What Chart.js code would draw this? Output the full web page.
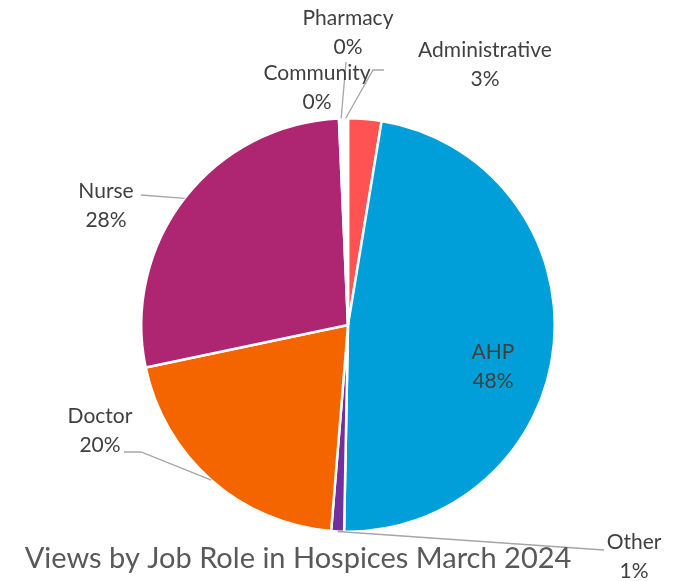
<!DOCTYPE html>
<html>
<head>
<meta charset="utf-8">
<script src="https://cdn.jsdelivr.net/npm/chart.js@4"></script>
<style>
  html, body { margin: 0; padding: 0; background: #ffffff; }
  #wrap { width: 677px; height: 581px; }
</style>
</head>
<body>
<div id="wrap"><canvas id="pieChart" width="677" height="581"></canvas></div>
<script>
  // Data (percent of views)
  const roles = ['Administrative', 'AHP', 'Other', 'Doctor', 'Nurse', 'Community', 'Pharmacy'];
  const views = [2.6, 47.7, 1.0, 20.4, 27.6, 0.35, 0.35];
  const sliceColors = ['#FF5252', '#009FDA', '#7030A0', '#F46500', '#AE2572', '#FFFFFF', '#FFFFFF'];
  const chartTitle = 'Views by Job Role in Hospices March 2024';

  // Where each data label sits (centre of text block) and the elbow of its leader line
  const labelLayout = {
    'Administrative': { x: 485, y: 65, leader: null },
    'AHP': { x: 493, y: 367, leader: null },
    'Other': { x: 634, y: 557, leader: [[604, 550]] },
    'Doctor': { x: 100, y: 431, leader: [[124, 452], [141, 452]] },
    'Nurse': { x: 106, y: 206, leader: [[141, 195]] },
    'Community': { x: 317, y: 88, leader: [[346, 62]] },
    'Pharmacy': { x: 348, y: 33, leader: [[384, 70], [373, 70]] }
  };

  const labelsPlugin = {
    id: 'excelLabels',
    afterDatasetsDraw(chart) {
      const ctx = chart.ctx;
      const meta = chart.getDatasetMeta(0);
      const total = views.reduce((a, b) => a + b, 0);

      // leader lines first
      ctx.save();
      ctx.strokeStyle = '#A6A6A6';
      ctx.lineWidth = 1.3;
      meta.data.forEach((arc, i) => {
        const lay = labelLayout[roles[i]];
        if (!lay || !lay.leader) return;
        const mid = (arc.startAngle + arc.endAngle) / 2;
        const ex = arc.x + Math.cos(mid) * arc.outerRadius;
        const ey = arc.y + Math.sin(mid) * arc.outerRadius;
        ctx.beginPath();
        ctx.moveTo(lay.leader[0][0], lay.leader[0][1]);
        for (let k = 1; k < lay.leader.length; k++) ctx.lineTo(lay.leader[k][0], lay.leader[k][1]);
        ctx.lineTo(ex, ey);
        ctx.stroke();
      });
      ctx.restore();

      // label text
      ctx.save();
      ctx.fillStyle = '#404040';
      ctx.font = '21px Lato';
      ctx.textAlign = 'center';
      ctx.textBaseline = 'middle';
      roles.forEach((role, i) => {
        const lay = labelLayout[role];
        const pct = Math.round(views[i] / total * 100) + '%';
        ctx.fillText(role, lay.x, lay.y - 15);
        ctx.fillText(pct, lay.x, lay.y + 14);
      });

      // title under the pie
      ctx.fillStyle = '#595959';
      ctx.font = '29px Lato';
      ctx.textBaseline = 'alphabetic';
      ctx.fillText(chartTitle, 298, 568);
      ctx.restore();
    }
  };

  new Chart(document.getElementById('pieChart').getContext('2d'), {
    type: 'pie',
    data: {
      labels: roles,
      datasets: [{
        data: views,
        backgroundColor: sliceColors,
        borderColor: '#ffffff',
        borderWidth: 2.5,
        hoverOffset: 0
      }]
    },
    options: {
      responsive: false,
      animation: false,
      layout: { padding: { top: 117, bottom: 48, left: 140, right: 121 } },
      plugins: {
        legend: { display: false },
        tooltip: { enabled: false },
        title: { display: false }
      }
    },
    plugins: [labelsPlugin]
  });
</script>
</body>
</html>
